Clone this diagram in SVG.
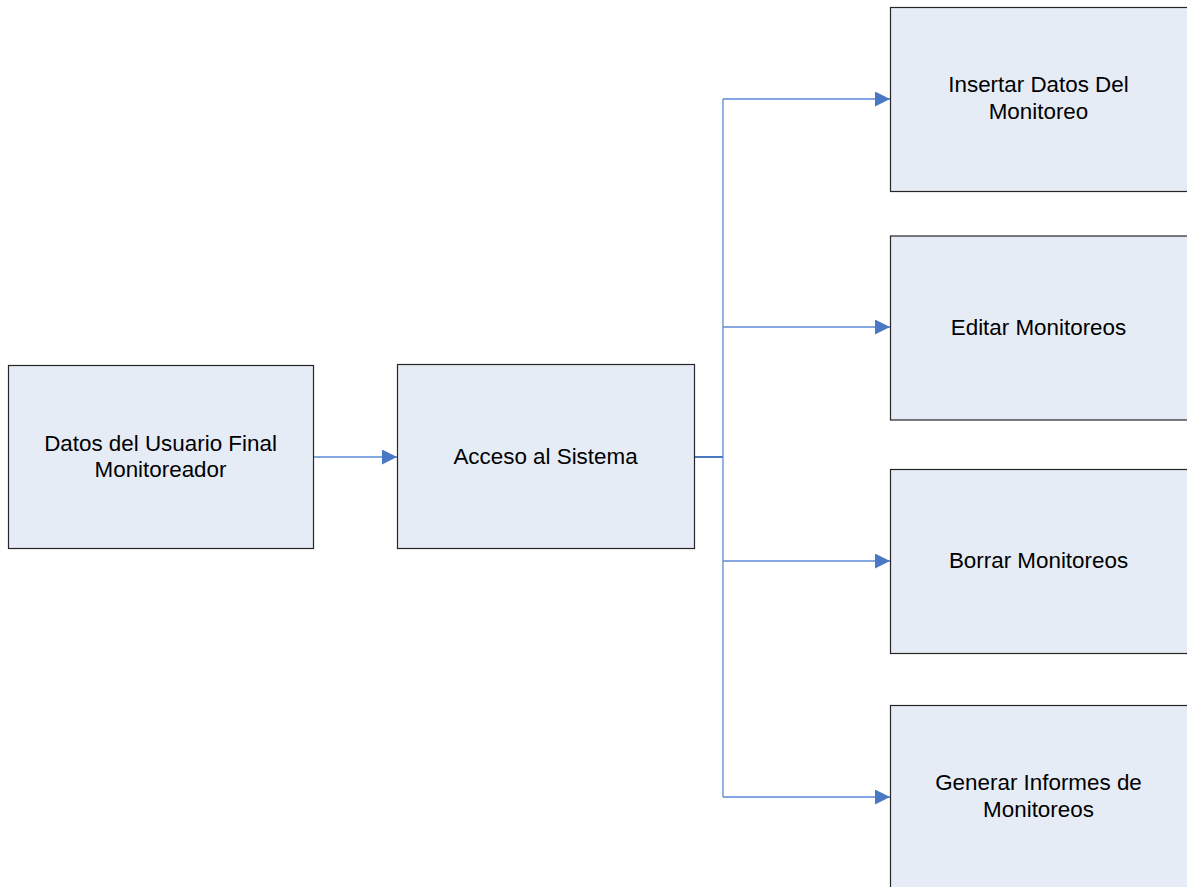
<svg xmlns="http://www.w3.org/2000/svg" width="1187" height="887" viewBox="0 0 1187 887">
  <style>
    .box { fill: #e6ecf6; stroke: #262626; stroke-width: 1.2; }
    .lbl { font-family: "Liberation Sans", Arial, sans-serif; font-size: 22.4px; fill: #000; text-anchor: middle; }
    .wire { fill: none; stroke: #5b8bd2; stroke-width: 1.3; }
    .trunk { fill: none; stroke: #4a78c0; stroke-width: 2; }
  </style>
  <defs>
    <marker id="arrow" markerUnits="userSpaceOnUse" markerWidth="16" markerHeight="16" refX="15" refY="7.5" orient="auto">
      <path d="M0,0 L15,7.5 L0,15 Z" fill="#4a78c4"/>
    </marker>
  </defs>
  <rect width="1187" height="887" fill="#ffffff"/>

  <g id="connectors">
    <line class="wire" x1="313" y1="457" x2="397" y2="457" marker-end="url(#arrow)"/>
    <line class="trunk" x1="694" y1="457" x2="723" y2="457"/>
    <line class="wire" x1="723" y1="99" x2="723" y2="797"/>
    <line class="wire" x1="723" y1="99" x2="890" y2="99" marker-end="url(#arrow)"/>
    <line class="wire" x1="723" y1="327" x2="890" y2="327" marker-end="url(#arrow)"/>
    <line class="wire" x1="723" y1="561" x2="890" y2="561" marker-end="url(#arrow)"/>
    <line class="wire" x1="723" y1="797" x2="890" y2="797" marker-end="url(#arrow)"/>
  </g>

  <g id="node-usuario">
    <rect class="box" x="8.5" y="365.5" width="305" height="183"/>
    <text class="lbl" x="160.5" y="451">Datos del Usuario Final</text>
    <text class="lbl" x="160.5" y="477">Monitoreador</text>
  </g>

  <g id="node-acceso">
    <rect class="box" x="397.5" y="364.5" width="297" height="184"/>
    <text class="lbl" x="545.5" y="464">Acceso al Sistema</text>
  </g>

  <!-- right-hand column boxes run past the page edge -->
  <g id="node-insertar">
    <rect class="box" x="890.5" y="7.5" width="310" height="184"/>
    <text class="lbl" x="1038.5" y="92">Insertar Datos Del</text>
    <text class="lbl" x="1038.5" y="119">Monitoreo</text>
  </g>

  <g id="node-editar">
    <rect class="box" x="890.5" y="236" width="310" height="184"/>
    <text class="lbl" x="1038.5" y="335">Editar Monitoreos</text>
  </g>

  <g id="node-borrar">
    <rect class="box" x="890.5" y="469.5" width="310" height="184"/>
    <text class="lbl" x="1038.5" y="568">Borrar Monitoreos</text>
  </g>

  <g id="node-informes">
    <rect class="box" x="890.5" y="705.5" width="310" height="190"/>
    <text class="lbl" x="1038.5" y="790">Generar Informes de</text>
    <text class="lbl" x="1038.5" y="817">Monitoreos</text>
  </g>
</svg>
